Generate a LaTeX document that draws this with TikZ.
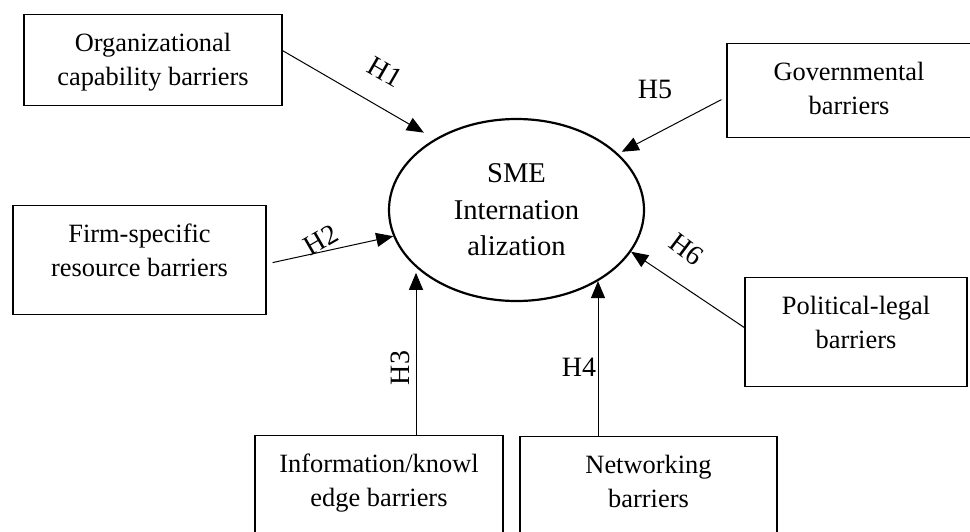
\documentclass[tikz,border=0pt]{standalone}
\usepackage{fontspec}
\setmainfont{Liberation Serif}
\usepackage{tikz}
\usetikzlibrary{positioning}
\usetikzlibrary{shapes.geometric}
\usetikzlibrary{arrows.meta}
\tikzset{barrier/.style={draw, line width=0.6pt, anchor=north, align=center, inner xsep=2pt, inner ysep=0pt, text height=35.5pt, font=\fontsize{13.2}{17}\selectfont}}
\tikzset{hyp/.style={-{Triangle[length=8.5pt,width=7pt]}, line width=0.5pt}}
\tikzset{hlabel/.style={inner sep=0pt, font=\fontsize{14}{16}\selectfont}}

\begin{document}
\begin{tikzpicture}[x=0.5pt,y=-0.5pt]
\useasboundingbox (0,0) rectangle (970,531);
\node[draw, ellipse, line width=1.1pt, minimum width=127.5pt, minimum height=91pt, inner sep=0pt, align=center, font=\fontsize{14.3}{18.3}\selectfont] (sme) at (516.5,210) {SME\\Internation\\alization};
\node[barrier, minimum width=129pt, text depth=10pt] (org) at (153,14) {Organizational\\capability barriers};
\node[barrier, minimum width=126.5pt, text depth=19pt] (firm) at (139.5,205) {Firm-specific\\resource barriers};
\node[barrier, minimum width=124pt, text depth=19.5pt] (info) at (379,435) {Information/knowl\\edge barriers};
\node[barrier, minimum width=128.5pt, text depth=19.5pt] (net) at (648.5,436) {Networking\\barriers};
\node[barrier, minimum width=122pt, text depth=11.5pt] (gov) at (849,43) {Governmental\\barriers};
\node[barrier, minimum width=111pt, text depth=19pt] (pol) at (856,277) {Political-legal\\barriers};
\coordinate (h3) at ([xshift=18.5pt]info.north);
\coordinate (h4) at ([xshift=-25.25pt]net.north);
\draw[hyp, shorten >=6.3pt] ([yshift=4.75pt]org.east) -- (sme.139);
\draw[hyp] ([xshift=3pt,yshift=-1.25pt]firm.east) -- (sme.192);
\draw[hyp, shorten >=2.5pt] (h3) -- (h3 |- sme.210);
\draw[hyp] (h4) -- (h4 |- sme.319);
\draw[hyp, shorten >=2pt] ([xshift=-2.5pt,yshift=-4.5pt]gov.west) -- (sme.29);
\draw[hyp] ([yshift=2.25pt]pol.west) -- (sme.340);
\node[hlabel, rotate=-30] (l1) at (385,72) {H1};
\node[hlabel, rotate=30] (l2) at (321,240) {H2};
\node[hlabel, rotate=90] (l3) at (400,368) {H3};
\node[hlabel] (l4) at (579,367) {H4};
\node[hlabel] (l5) at (655,89) {H5};
\node[hlabel, rotate=-37] (l6) at (687,249) {H6};
\end{tikzpicture}
\end{document}
